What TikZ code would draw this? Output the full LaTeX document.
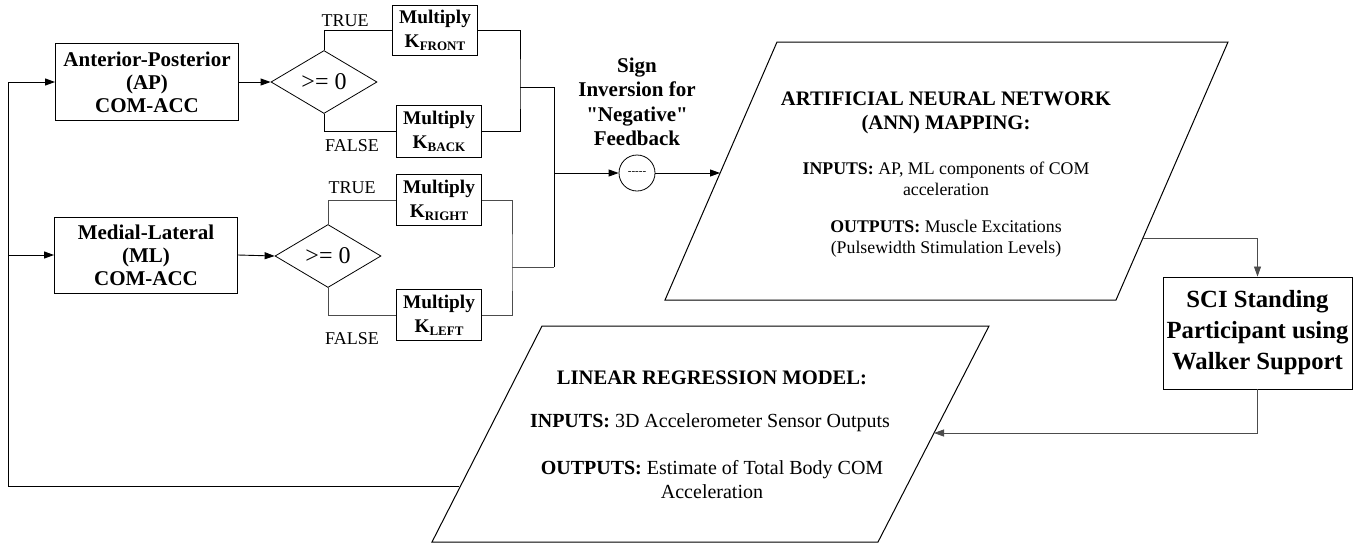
\documentclass[tikz,border=0pt]{standalone}
\usepackage{fontspec}
\setmainfont{Liberation Serif}[Ligatures=TeXOff]
\usetikzlibrary{arrows.meta,shapes.geometric,calc}
\newcommand{\Ksub}[1]{K\raisebox{-0.35ex}{\fontsize{13}{13}\selectfont #1}}
\tikzset{
  ln/.style={line width=0.9pt,draw=black},
  lnt/.style={line width=0.8pt,draw=black!70},
  arr/.style={-{Triangle[length=10pt,width=7pt]}},
  blk/.style={draw=black,line width=0.9pt,rectangle,align=center,inner sep=0pt,font=\bfseries\fontsize{21}{23}\selectfont},
  mul/.style={draw=black,line width=0.9pt,rectangle,align=center,inner sep=0pt,minimum width=85pt,font=\bfseries\fontsize{19.3}{24}\selectfont},
  dia/.style={draw=black,line width=0.8pt,diamond,inner sep=0pt,minimum width=106pt,minimum height=63pt,font=\fontsize{24}{24}\selectfont},
  lab/.style={inner sep=0pt,font=\fontsize{18}{18}\selectfont},
  ttl/.style={inner sep=0pt,align=center,font=\bfseries\fontsize{20.6}{24}\selectfont},
  bodyA/.style={inner sep=0pt,align=center,font=\fontsize{17.8}{21.5}\selectfont},
  bodyL/.style={inner sep=0pt,align=center,font=\fontsize{20}{24}\selectfont},
}
\begin{document}
\begin{tikzpicture}[x=1pt,y=-1pt]
\useasboundingbox (0,0) rectangle (1359,544);
\fill[white] (0,0) rectangle (1359,544);

% input boxes
\node[blk,minimum width=183pt,minimum height=77pt] (ap) at (147,82) {Anterior-Posterior\\(AP)\\COM-ACC};
\node[blk,minimum width=183pt,minimum height=76pt] (ml) at (146,255) {Medial-Lateral\\(ML)\\COM-ACC};

% decisions
\node[dia] (d1) at (324,82) {>= 0};
\node[dia] (d2) at (328,256) {>= 0};

% multiply boxes
\node[mul,minimum height=50pt] (kf) at (435,30) {Multiply\\\Ksub{FRONT}};
\node[mul,minimum height=52pt] (kb) at (439,131) {Multiply\\\Ksub{BACK}};
\node[mul,minimum height=51pt] (kr) at (439,200) {Multiply\\\Ksub{RIGHT}};
\node[mul,minimum height=51pt] (kl) at (439,315) {Multiply\\\Ksub{LEFT}};

% labels
\node[lab] (t1) at (345,21) {TRUE};
\node[lab] (f1) at (352,146) {FALSE};
\node[lab] (t2) at (352,188) {TRUE};
\node[lab] (f2) at (352,339) {FALSE};

% sign inversion
\node[draw=black,line width=0.8pt,circle,minimum size=36pt,inner sep=0pt] (inv) at (637,173) {\fontsize{11}{11}\selectfont -----};
\node[ttl,font=\bfseries\fontsize{21}{24.5}\selectfont] (invlab) at (637,102) {Sign\\Inversion for\\"Negative"\\Feedback};

% ANN parallelogram
\coordinate (a1) at (777,42);
\coordinate (a2) at (1228,42);
\coordinate (a3) at (1116,300);
\coordinate (a4) at (665,300);
\draw[line width=1pt] (a1) -- (a2) -- (a3) -- (a4) -- cycle;
\node[ttl] (anntitle) at (946,113) {ARTIFICIAL NEURAL NETWORK\\(ANN) MAPPING:};
\node[bodyA] (annin) at (946,179) {\textbf{INPUTS:} AP, ML components of COM\\acceleration};
\node[bodyA] (annout) at (946,238.5) {\textbf{OUTPUTS:} Muscle Excitations\\(Pulsewidth Stimulation Levels)};
\coordinate (annIn) at (720,173);
\coordinate (annOut) at (1143,238);

% SCI box
\node[draw=black,line width=0.9pt,rectangle,align=center,inner sep=0pt,minimum width=189pt,minimum height=112pt,font=\bfseries\fontsize{24.7}{31}\selectfont] (sci) at (1257.5,333) {SCI Standing\\Participant using\\Walker Support};

% LR parallelogram
\coordinate (l1) at (542,326);
\coordinate (l2) at (989,326);
\coordinate (l3) at (878,542);
\coordinate (l4) at (432,542);
\draw[line width=1pt] (l1) -- (l2) -- (l3) -- (l4) -- cycle;
\node[ttl] (lrtitle) at (712,378) {LINEAR REGRESSION MODEL:};
\node[bodyL] (lrin) at (710,423) {\textbf{INPUTS:} 3D Accelerometer Sensor Outputs};
\node[bodyL] (lrout) at (712,480) {\textbf{OUTPUTS:} Estimate of Total Body COM\\Acceleration};
\coordinate (lrIn) at (934,433);
\coordinate (lrOut) at (459,486);

% junction coordinates
\coordinate (j1) at (520,87);
\coordinate (j2) at (512,267);
\coordinate (m1) at (554,87);
\coordinate (m2) at (554,267);
\coordinate (m3) at (554,173);
\coordinate (lb) at (8,486);

% connectors
\draw[ln,arr] (ap.east) -- (d1.west);
\draw[ln,arr] (ml.east) -- (d2.west);
\draw[ln] (d1.north) |- (kf.west);
\draw[ln] (d1.south) |- (kb.west);
\draw[lnt] (d2.north) |- (kr.west);
\draw[lnt] (d2.south) |- (kl.west);
\draw[ln] (kf.east) -| (j1) |- (kb.east);
\draw[lnt] (kr.east) -| (j2) |- (kl.east);
\draw[ln] (j1) -- (m1);
\draw[lnt] (j2) -- (m2);
\draw[ln] (m1) -- (m2);
\draw[ln,arr] (m3) -- (inv.west);
\draw[ln,arr] (inv.east) -- (annIn);
\draw[lnt,arr] (annOut) -| (sci.north);
\draw[lnt,arr] (sci.south) |- (lrIn);
\draw[ln,arr] (lrOut) -- (lb) |- (ap.west);
\draw[ln,arr] (lb |- ml.west) -- (ml.west);
\end{tikzpicture}
\end{document}
